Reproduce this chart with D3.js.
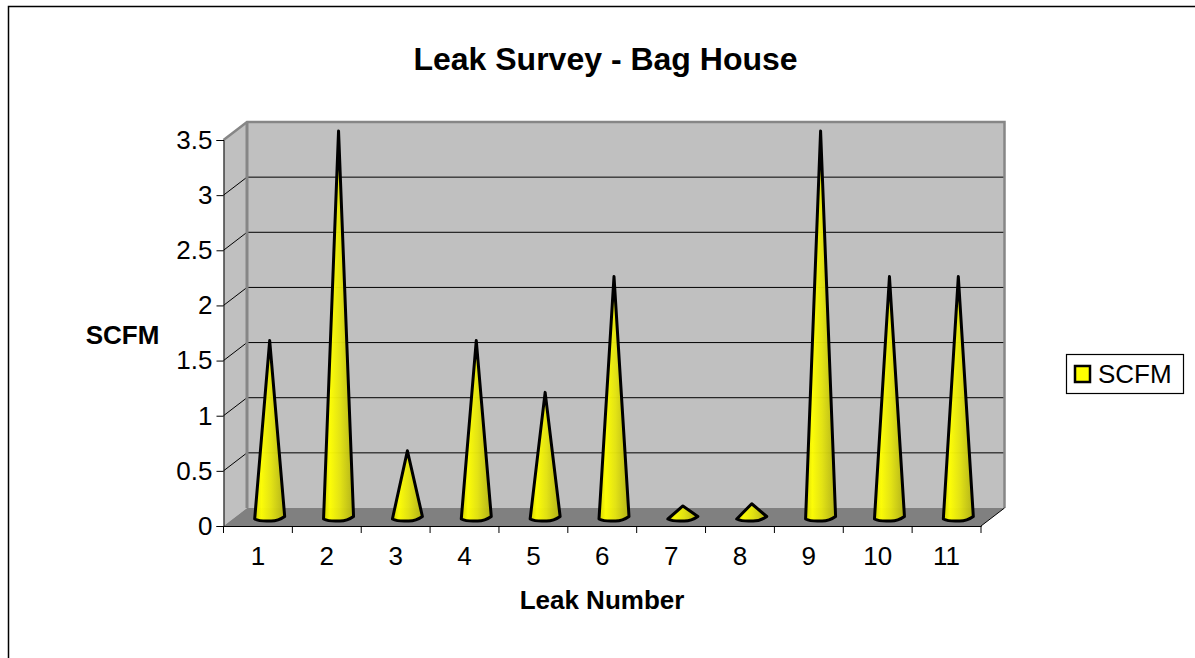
<!DOCTYPE html>
<html>
<head>
<meta charset="utf-8">
<script src="https://cdn.jsdelivr.net/npm/d3@7"></script>
<style>
  html, body { margin: 0; padding: 0; background: #fff; overflow: hidden; }
  text { font-family: "Liberation Sans", Arial, sans-serif; fill: #000; }
</style>
</head>
<body>
<svg id="chart" width="1195" height="658"></svg>
<script>
var leakNumbers = ['1', '2', '3', '4', '5', '6', '7', '8', '9', '10', '11'];
var scfmValues = [1.6, 3.5, 0.6, 1.6, 1.13, 2.18, 0.1, 0.12, 3.5, 2.18, 2.18];
var yTicks = [0, 0.5, 1, 1.5, 2, 2.5, 3, 3.5];

var svg = d3.select('#chart');

var plot = { left: 223.5, right: 981, top: 140, bottom: 526 };
var depth = { x: 23.5, y: -18 }; // offset from front of the floor to the back wall

var x = d3.scaleBand().domain(leakNumbers).range([plot.left, plot.right]);
var y = d3.scaleLinear().domain([0, 3.5]).range([plot.bottom, plot.top]);

// chart frame, runs off the right and bottom of the picture
svg.append('rect')
  .attr('x', 8.5).attr('y', 6.5)
  .attr('width', 1200).attr('height', 700)
  .attr('fill', '#fff').attr('stroke', '#000').attr('stroke-width', 1.5);

// back wall
svg.append('rect')
  .attr('x', plot.left + depth.x).attr('y', plot.top + depth.y)
  .attr('width', plot.right - plot.left).attr('height', plot.bottom - plot.top)
  .attr('fill', '#c0c0c0');

// side wall
svg.append('path')
  .attr('d', d3.line()([
    [plot.left, plot.top], [plot.left + depth.x, plot.top + depth.y],
    [plot.left + depth.x, plot.bottom + depth.y], [plot.left, plot.bottom]
  ]) + 'Z')
  .attr('fill', '#c0c0c0');

// floor
svg.append('path')
  .attr('d', d3.line()([
    [plot.left, plot.bottom], [plot.left + depth.x, plot.bottom + depth.y],
    [plot.right + depth.x, plot.bottom + depth.y], [plot.right, plot.bottom]
  ]) + 'Z')
  .attr('fill', '#808080');

// gridlines on both walls
svg.append('g').selectAll('path')
  .data(yTicks.slice(1, -1))
  .join('path')
  .attr('d', function(d) {
    return d3.line()([
      [plot.left, y(d)], [plot.left + depth.x, y(d) + depth.y],
      [plot.right + depth.x, y(d) + depth.y]
    ]);
  })
  .attr('fill', 'none').attr('stroke', '#000').attr('stroke-width', 1);

// wall edges
svg.append('path')
  .attr('d', d3.line()([
    [plot.left, plot.top], [plot.left + depth.x, plot.top + depth.y],
    [plot.right + depth.x, plot.top + depth.y], [plot.right + depth.x, plot.bottom + depth.y]
  ]))
  .attr('fill', 'none').attr('stroke', '#868686').attr('stroke-width', 2.5);
svg.append('path')
  .attr('d', d3.line()([
    [plot.left + depth.x, plot.top + depth.y], [plot.left + depth.x, plot.bottom + depth.y]
  ]))
  .attr('fill', 'none').attr('stroke', '#868686').attr('stroke-width', 3);
svg.append('path')
  .attr('d', d3.line()([
    [plot.right, plot.bottom], [plot.right + depth.x, plot.bottom + depth.y]
  ]))
  .attr('fill', 'none').attr('stroke', '#000').attr('stroke-width', 1);

// cone shading
var defs = svg.append('defs');
var grad = defs.append('linearGradient').attr('id', 'coneFill');
[[0, '#d8d800'], [0.22, '#ffff00'], [0.55, '#e4e40e'], [1, '#b2b214']].forEach(function(s) {
  grad.append('stop').attr('offset', s[0]).attr('stop-color', s[1]);
});

// cones stand half way back on the floor
var coneDx = depth.x / 2;
var coneDy = depth.y / 2;
var halfBase = 15;

svg.append('g').selectAll('path')
  .data(scfmValues)
  .join('path')
  .attr('d', function(d, i) {
    var cx = x(leakNumbers[i]) + x.bandwidth() / 2 + coneDx;
    var base = y(0) + coneDy;
    var tip = y(d) + coneDy;
    return 'M' + (cx - halfBase) + ',' + (base + 2) +
      'L' + cx + ',' + tip +
      'L' + (cx + halfBase) + ',' + (base - 0.5) +
      'Q' + (cx + 8) + ',' + (base + 4.5) + ' ' + cx + ',' + (base + 4) +
      'Q' + (cx - 10) + ',' + (base + 4.5) + ' ' + (cx - halfBase) + ',' + (base + 2) + 'Z';
  })
  .attr('fill', 'url(#coneFill)')
  .attr('fill-opacity', 0.96)
  .attr('stroke', '#000').attr('stroke-width', 3).attr('stroke-linejoin', 'round');

// y axis
var yAxis = svg.append('g')
  .attr('transform', 'translate(' + plot.left + ',0)')
  .call(d3.axisLeft(y).tickValues(yTicks).tickFormat(d3.format('')).tickSize(7).tickPadding(4));
yAxis.selectAll('text').attr('font-size', 26).style('font-family', '"Liberation Sans", Arial, sans-serif');
yAxis.select('.domain').attr('stroke', '#000');

// x axis, ticks sit between the categories
var xAxis = svg.append('g')
  .attr('transform', 'translate(0,' + plot.bottom + ')')
  .call(d3.axisBottom(x).tickSize(0).tickPadding(21));
xAxis.selectAll('text').attr('font-size', 26).style('font-family', '"Liberation Sans", Arial, sans-serif');
xAxis.selectAll('.tickEdge')
  .data(d3.range(leakNumbers.length + 1))
  .join('line')
  .attr('class', 'tickEdge')
  .attr('x1', function(d) { return plot.left + d * x.step(); })
  .attr('x2', function(d) { return plot.left + d * x.step(); })
  .attr('y1', 0).attr('y2', 7)
  .attr('stroke', '#000');

// titles
svg.append('text')
  .attr('x', 605.5).attr('y', 70)
  .attr('text-anchor', 'middle')
  .attr('font-size', 32).attr('font-weight', 'bold')
  .text('Leak Survey - Bag House');

svg.append('text')
  .attr('x', 122.5).attr('y', 344)
  .attr('text-anchor', 'middle')
  .attr('font-size', 26).attr('font-weight', 'bold')
  .text('SCFM');

svg.append('text')
  .attr('x', 602).attr('y', 609)
  .attr('text-anchor', 'middle')
  .attr('font-size', 26).attr('font-weight', 'bold')
  .text('Leak Number');

// legend
svg.append('rect')
  .attr('x', 1066.5).attr('y', 354.5)
  .attr('width', 117).attr('height', 39)
  .attr('fill', '#fff').attr('stroke', '#000').attr('stroke-width', 1.2);
svg.append('rect')
  .attr('x', 1075).attr('y', 366)
  .attr('width', 15).attr('height', 16)
  .attr('fill', '#ffff00').attr('stroke', '#000').attr('stroke-width', 2.5);
svg.append('text')
  .attr('x', 1098).attr('y', 383)
  .attr('font-size', 26)
  .text('SCFM');
</script>
</body>
</html>
